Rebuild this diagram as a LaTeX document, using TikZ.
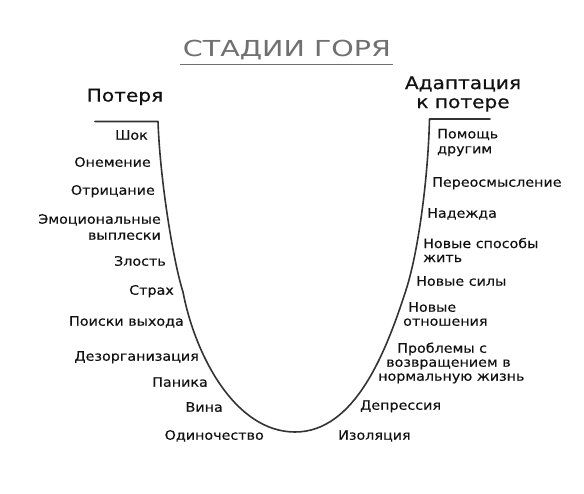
\documentclass[tikz,border=0pt]{standalone}
\usepackage{fontspec}
\setmainfont{DejaVu Sans}
\newfontfamily\labfont[FakeStretch=1.1,FakeBold=0.3]{DejaVu Sans}
\newfontfamily\titfont[FakeStretch=1.3]{DejaVu Sans}
\newfontfamily\headfont[FakeStretch=1.15,FakeBold=0.6]{DejaVu Sans}
\definecolor{inkc}{HTML}{111111}
\definecolor{curvec}{HTML}{333333}
\definecolor{titlec}{HTML}{707070}
\begin{document}
\begin{tikzpicture}[x=1pt,y=-1pt,
  lab/.style={inner sep=0pt,text=inkc,font=\labfont\fontsize{13}{15}\selectfont},
  labl/.style={lab,anchor=mid east,align=right},
  labr/.style={lab,anchor=mid west,align=left},
  head/.style={inner sep=0pt,text=inkc,font=\headfont\fontsize{17.5}{19}\selectfont,align=center},
  curve/.style={draw=curvec,line width=1.6pt,line join=round,line cap=round}]
\useasboundingbox[fill=white] (0,0) rectangle (584,494);
% title
\node[inner sep=0pt,text=titlec,font=\titfont\fontsize{22}{24}\selectfont] (title) at (287,50) {СТАДИИ ГОРЯ};
\coordinate (ul1) at (180,64.5);
\coordinate (ul2) at (393,64.5);
\draw[titlec,line width=1.4pt] (ul1) -- (ul2);
% headers
\node[head] (loss) at (125,97) {Потеря};
\node[head] (adapt) at (463,94) {Адаптация\\к потере};
% curve
\coordinate (lt) at (95,121.5);
\coordinate (lc) at (158,121.5);
\coordinate (la) at (183,292);
\coordinate (bot) at (295,432);
\coordinate (ra) at (406,290);
\coordinate (rc) at (429.5,119);
\coordinate (rt) at (490,119);
\draw[curve] (lt) -- (lc)
  .. controls (160,180) and (173.4,262) .. (la)
  .. controls (195,355) and (235,432) .. (bot)
  .. controls (355,432) and (386,352) .. (ra)
  .. controls (418,253) and (428,180) .. (rc)
  -- (rt);
% left labels
\node[labl] (l1) at (148,137) {Шок};
\node[labl] (l2) at (151,164) {Онемение};
\node[labl] (l3) at (155,192) {Отрицание};
\node[labl,font=\labfont\fontsize{13}{16}\selectfont,anchor=east] (l4) at (161,227) {Эмоциональные\\выплески};
\node[labl] (l5) at (166,263) {Злость};
\node[labl] (l6) at (174,292) {Страх};
\node[labl] (l7) at (184,323) {Поиски выхода};
\node[labl] (l8) at (199,358) {Дезорганизация};
\node[labl] (l9) at (208,384) {Паника};
\node[labl] (l10) at (223,409) {Вина};
\node[labl] (l11) at (264,437) {Одиночество};
% right labels
\node[labr,anchor=west] (r1) at (437,142.5) {Помощь\\другим};
\node[labr] (r2) at (432,184) {Переосмысление};
\node[labr] (r3) at (427,215) {Надежда};
\node[labr,font=\labfont\fontsize{13}{14}\selectfont,anchor=west] (r4) at (423,250) {Новые способы\\жить};
\node[labr] (r5) at (416,283) {Новые силы};
\node[labr] (r6a) at (408,309) {Новые};
\node[labr] (r6b) at (403,323) {отношения};
\node[labr] (r7a) at (397,350) {Проблемы с};
\node[labr] (r7b) at (386,364) {возвращением в};
\node[labr] (r7c) at (378,378) {нормальную жизнь};
\node[labr] (r8) at (360,407) {Депрессия};
\node[labr] (r9) at (338,437) {Изоляция};
\end{tikzpicture}
\end{document}
